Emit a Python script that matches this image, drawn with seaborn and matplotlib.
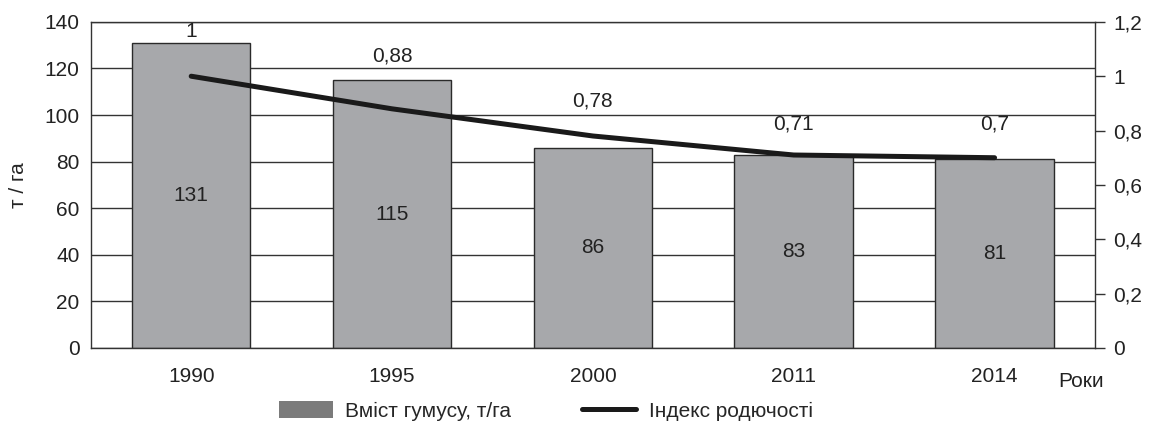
import numpy as np
import pandas as pd
import seaborn as sns
from matplotlib import pyplot as plt
from matplotlib.patches import Patch
from matplotlib.lines import Line2D

years = ['1990', '1995', '2000', '2011', '2014']
humus = [131, 115, 86, 83, 81]
fertility = [1, 0.88, 0.78, 0.71, 0.7]
fertility_labels = ['1', '0,88', '0,78', '0,71', '0,7']

sns.set_style('white')
plt.rcParams['font.family'] = ['Liberation Sans', 'DejaVu Sans']
fs = 15

df = pd.DataFrame({'year': years, 'humus': humus, 'index': fertility})

fig, ax = plt.subplots(figsize=(11.49, 4.29), dpi=100)
fig.subplots_adjust(left=0.079, right=0.953, top=0.949, bottom=0.189)

sns.barplot(data=df, x='year', y='humus', color='#a7a8ab', saturation=1,
            width=0.59, edgecolor='#2a2a2a', linewidth=1, ax=ax, zorder=2)
ax.bar_label(ax.containers[0], label_type='center', fontsize=fs, color='#222222')

ax.set_ylim(0, 140)
ax.set_yticks(range(0, 141, 20))
ax.yaxis.grid(True, color='#333333', linewidth=1)
ax.set_axisbelow(True)
ax.set_xlim(-0.5, 4.5)
ax.set_ylabel('т / га', fontsize=fs, labelpad=12)
ax.set_xlabel('')
ax.tick_params(axis='both', length=0, labelsize=fs, colors='#222222', pad=8)
ax.tick_params(axis='x', pad=14)
for s in ax.spines.values():
    s.set_color('#333333')
    s.set_linewidth(1)

ax2 = ax.twinx()
sns.lineplot(x=np.arange(len(years)), y=fertility, color='#1a1a1a',
             linewidth=3.6, ax=ax2, zorder=3)
ax2.set_ylim(0, 1.2)
ticks2 = [0, 0.2, 0.4, 0.6, 0.8, 1.0, 1.2]
ax2.set_yticks(ticks2)
ax2.set_yticklabels([f'{v:g}'.replace('.', ',') for v in ticks2])
ax2.tick_params(axis='y', length=7, width=1, color='#333333', labelsize=fs,
                labelcolor='#222222', pad=6)
for s in ax2.spines.values():
    s.set_visible(False)

offsets = [32, 38, 25, 22, 24]
for i, (v, lab) in enumerate(zip(fertility, fertility_labels)):
    ax2.annotate(lab, (i, v), xytext=(0, offsets[i]), textcoords='offset points',
                 ha='center', va='center', fontsize=fs, color='#222222')

fig.text(0.921, 0.098, 'Роки', fontsize=fs, color='#222222', ha='left')

handles = [Patch(facecolor='#7b7b7b', edgecolor='none'),
           Line2D([0], [0], color='#1a1a1a', linewidth=3.6)]
fig.legend(handles, ['Вміст гумусу, т/га', 'Індекс родючості'],
           loc='lower center', bbox_to_anchor=(0.475, -0.025), ncol=2,
           frameon=False, fontsize=fs, handlelength=2.6, handleheight=0.9,
           columnspacing=3.4, handletextpad=0.6)

fig.savefig('out.png', dpi=100)
